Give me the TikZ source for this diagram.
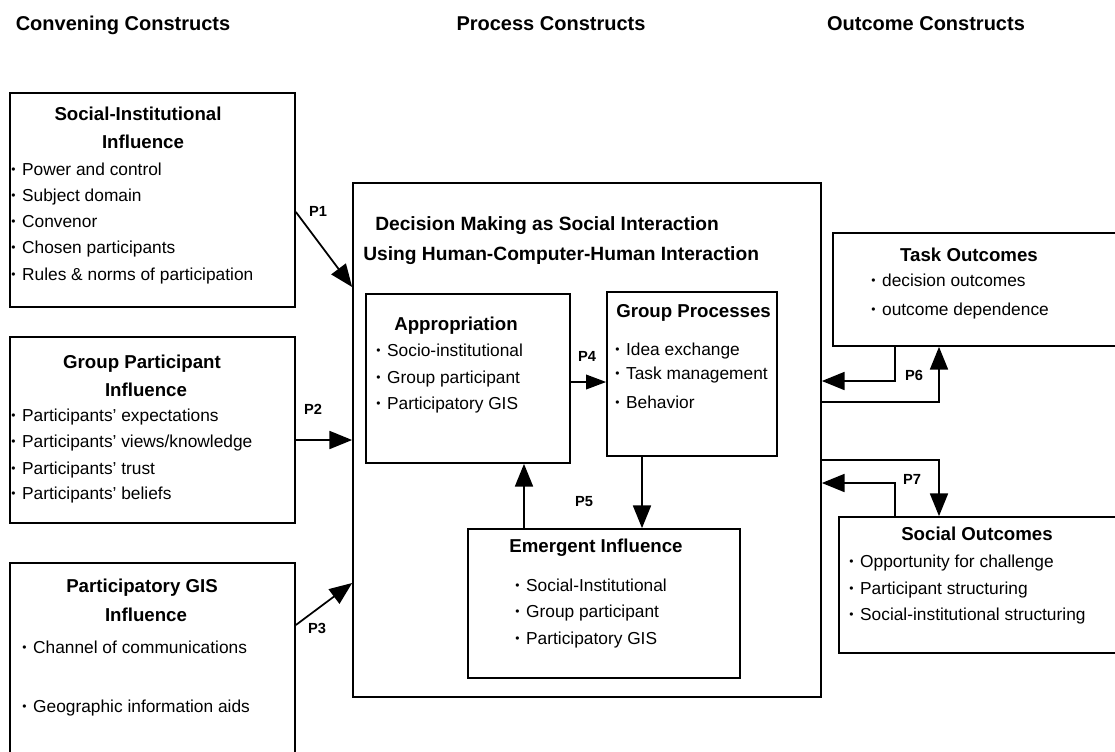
\documentclass[tikz,border=0pt]{standalone}
\usepackage{fontspec}
\setmainfont{Liberation Sans}
\usetikzlibrary{arrows.meta,fit}
% small raised bullet for list items
\newcommand{\bl}{{\fontsize{9}{9}\selectfont\raisebox{0.25ex}{\textbullet}}\kern5pt}
\begin{document}
\begin{tikzpicture}[x=0.75pt,y=-0.75pt,
  box/.style={draw, line width=1.3pt, inner sep=0pt},
  arr/.style={line width=1.3pt, -{Triangle[length=17pt,width=13.5pt]}},
  head/.style={font=\fontsize{15}{17}\selectfont\bfseries, anchor=mid, inner sep=0pt},
  ttl/.style={font=\fontsize{14}{16}\selectfont\bfseries, anchor=mid, inner sep=0pt},
  ttlw/.style={font=\fontsize{14}{16}\selectfont\bfseries, anchor=mid west, inner sep=0pt},
  item/.style={font=\fontsize{13}{15}\selectfont, anchor=mid west, inner sep=0pt},
  plab/.style={font=\fontsize{11}{13}\selectfont\bfseries, anchor=mid, inner sep=0pt},
]
\useasboundingbox (0,0) rectangle (1115,751);

% column headings
\node[head] (hconv) at (123,27) {Convening Constructs};
\node[head] (hproc) at (551,27) {Process Constructs};
\node[head] (hout)  at (926,27) {Outcome Constructs};

\begin{scope}
\clip (0,0) rectangle (1115,751);
% boxes
\node[box, fit={(10,93) (295,307)}]   (si)   {};
\node[box, fit={(10,337) (295,523)}]  (gp)   {};
\node[box, fit={(10,563) (295,775)}]  (gis)  {};
\node[box, fit={(353,183) (821,697)}] (main) {};
\node[box, fit={(366,294) (570,463)}] (app)  {};
\node[box, fit={(607,292) (777,456)}] (grp)  {};
\node[box, fit={(468,529) (740,678)}] (emg)  {};
\node[box, fit={(833,233) (1125,346)}] (task) {};
\node[box, fit={(839,517) (1125,653)}] (soc)  {};
\end{scope}

% Social-Institutional Influence
\node[ttl] (siT1) at (138,117) {Social-Institutional};
\node[ttl] (siT2) at (143,145) {Influence};
\node[item] (si1) at (11,172) {\bl Power and control};
\node[item] (si2) at (11,198) {\bl Subject domain};
\node[item] (si3) at (11,224) {\bl Convenor};
\node[item] (si4) at (11,250) {\bl Chosen participants};
\node[item] (si5) at (11,277) {\bl Rules \& norms of participation};

% Group Participant Influence
\node[ttl] (gpT1) at (142,365) {Group Participant};
\node[ttl] (gpT2) at (146,393) {Influence};
\node[item] (gp1) at (11,418) {\bl Participants' expectations};
\node[item] (gp2) at (11,444) {\bl Participants' views/knowledge};
\node[item] (gp3) at (11,471) {\bl Participants' trust};
\node[item] (gp4) at (11,496) {\bl Participants' beliefs};

% Participatory GIS Influence
\node[ttl] (gisT1) at (142,589) {Participatory GIS};
\node[ttl] (gisT2) at (146,618) {Influence};
\node[item] (gis1) at (22,650) {\bl Channel of communications};
\node[item] (gis2) at (22,709) {\bl Geographic information aids};

% central process frame
\node[ttlw, font=\fontsize{14.4}{16}\selectfont\bfseries] (mT1) at (375,227) {Decision Making as Social Interaction};
\node[ttlw, font=\fontsize{14.4}{16}\selectfont\bfseries] (mT2) at (363,257) {Using Human-Computer-Human Interaction};

\node[ttl] (appT) at (456,327) {Appropriation};
\node[item] (app1) at (376,353) {\bl Socio-institutional};
\node[item] (app2) at (376,380) {\bl Group participant};
\node[item] (app3) at (376,406) {\bl Participatory GIS};

\node[ttlw] (grpT) at (616,314) {Group Processes};
\node[item] (grp1) at (615,352) {\bl Idea exchange};
\node[item] (grp2) at (615,376) {\bl Task management};
\node[item] (grp3) at (615,405) {\bl Behavior};

\node[ttl] (emgT) at (596,549) {Emergent Influence};
\node[item] (emg1) at (515,588) {\bl Social-Institutional};
\node[item] (emg2) at (515,614) {\bl Group participant};
\node[item] (emg3) at (515,641) {\bl Participatory GIS};

% outcomes
\node[ttl] (taskT) at (969,258) {Task Outcomes};
\node[item] (task1) at (871,283) {\bl decision outcomes};
\node[item] (task2) at (871,312) {\bl outcome dependence};

\node[ttl] (socT) at (977,537) {Social Outcomes};
\node[item] (soc1) at (849,564) {\bl Opportunity for challenge};
\node[item] (soc2) at (849,591) {\bl Participant structuring};
\node[item] (soc3) at (849,617) {\bl Social-institutional structuring};

% convening influences into the process frame
\draw[arr] ([yshift=-9pt]si.east) -- ([yshift=114.75pt]main.west);
\draw[arr] (gp.east |- main.west) -- (main.west);
\draw[arr] (gis.east |- 0,625) -- ([yshift=-107.25pt]main.west);
\node[plab] (p1) at (318,213) {P1};
\node[plab] (p2) at (313,411) {P2};
\node[plab] (p3) at (317,630) {P3};

% inner process links
\draw[arr, line width=1pt, -{Triangle[length=15pt,width=11pt]}] (app.east |- 0,382) -- (grp.west |- 0,382);
\draw[arr] (emg.north -| 524,0) -- (app.south -| 524,0);
\draw[arr] (grp.south -| 642,0) -- (emg.north -| 642,0);
\node[plab] (p4) at (587,358) {P4};
\node[plab] (p5) at (584,503) {P5};

% feedback with task outcomes
\draw[arr] (task.south -| 895,0) |- (main.east |- 0,381);
\draw[arr] (main.east |- 0,402) -| (task.south -| 939,0);
\node[plab] (p6) at (914,377) {P6};

% feedback with social outcomes
\draw[arr] (main.east |- 0,460) -| (soc.north -| 939,0);
\draw[arr] (soc.north -| 895,0) |- (main.east |- 0,483);
\node[plab] (p7) at (912,481) {P7};
\end{tikzpicture}
\end{document}
